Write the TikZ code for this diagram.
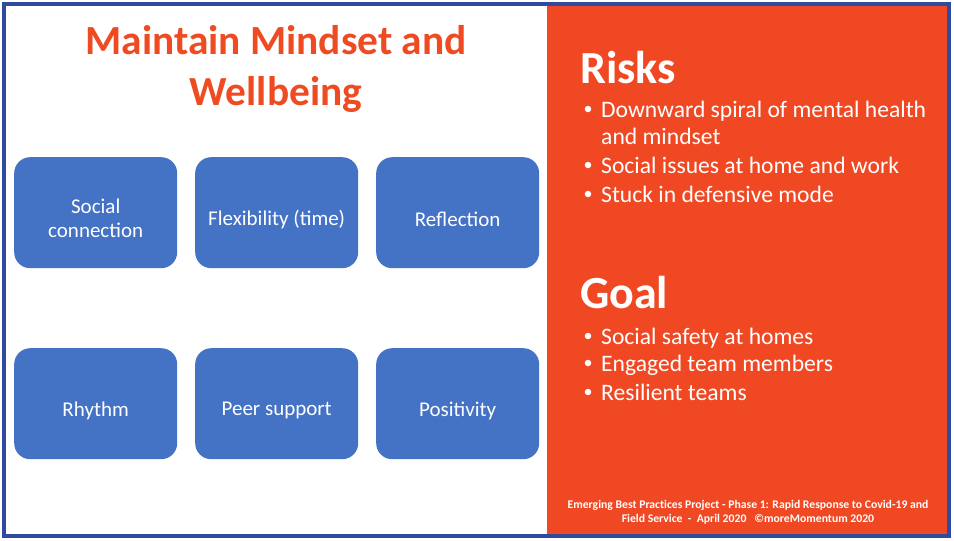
\documentclass[tikz,border=0pt]{standalone}
\usepackage{fontspec}
\setmainfont{Carlito}
\definecolor{frameblue}{HTML}{2F4A9E}
\definecolor{panelorange}{HTML}{EF4823}
\definecolor{titleorange}{HTML}{EF4B23}
\definecolor{boxblue}{HTML}{4472C4}
\begin{document}
\begin{tikzpicture}[x=1pt,y=-1pt,
  box/.style={fill=boxblue,rounded corners=16pt,minimum width=163pt,minimum height=111pt,anchor=north west,inner sep=0pt},
  boxtext/.style={text=white,align=center,font=\fontsize{21}{24}\selectfont,inner sep=0pt},
  head/.style={anchor=base west,text=white,font=\fontsize{46}{50}\selectfont\bfseries,inner sep=0pt},
  bul/.style={anchor=base west,text=white,font=\fontsize{23.6}{28}\selectfont,inner sep=0pt,align=left},
  dot/.style={circle,fill=white,minimum size=6.5pt,inner sep=0pt}]
\useasboundingbox (0,0) rectangle (954,541);
\fill[white] (0,0) rectangle (954,541);
\fill[panelorange] (547,6) rectangle (947,534);
\draw[frameblue,line width=4.5pt] (4,4) rectangle (949,536);
% title
\node[text=titleorange,font=\fontsize{41.4}{51}\selectfont\bfseries,align=center,anchor=base,inner sep=0pt] (title) at (276,105) {Maintain Mindset and\\Wellbeing};
% boxes
\node[box] (b1) at (14,157) {};
\node[box] (b2) at (195,157) {};
\node[box] (b3) at (376,157) {};
\node[box] (b4) at (14,348) {};
\node[box] (b5) at (195,348) {};
\node[box] (b6) at (376,348) {};
\node[boxtext] (t1) at ([yshift=-6pt]b1.center) {Social\\connection};
\node[boxtext] (t2) at ([yshift=-7pt]b2.center) {Flexibility (time)};
\node[boxtext] (t3) at ([yshift=-7pt]b3.center) {Reflection};
\node[boxtext] (t4) at ([yshift=-7pt]b4.center) {Rhythm};
\node[boxtext] (t5) at ([yshift=-7pt]b5.center) {Peer support};
\node[boxtext] (t6) at ([yshift=-7pt]b6.center) {Positivity};
% risks
\node[head] (risks) at (580,83) {Risks};
\node[bul] (r1) at (601,117) {Downward spiral of mental health};
\node[bul] (r1b) at (601,144) {and mindset};
\node[bul] (r2) at (601,173) {Social issues at home and work};
\node[bul] (r3) at (601,202) {Stuck in defensive mode};
\node[dot] (d1) at (588,109) {};
\node[dot] (d2) at (588,165) {};
\node[dot] (d3) at (588,194) {};
% goal
\node[head] (goal) at (580,308) {Goal};
\node[bul] (g1) at (601,344) {Social safety at homes};
\node[bul] (g2) at (601,371) {Engaged team members};
\node[bul] (g3) at (601,400) {Resilient teams};
\node[dot] (d4) at (588,336) {};
\node[dot] (d5) at (588,363) {};
\node[dot] (d6) at (588,392) {};
% footer
\node[text=white,font=\fontsize{11.7}{14}\selectfont\addfontfeatures{Ligatures=NoCommon}\bfseries,align=center,anchor=base,inner sep=0pt] (foot) at (748,522) {Emerging Best Practices Project - Phase 1: Rapid Response to Covid-19 and\\Field Service\ \ -\ \ April 2020\ \ \ ©moreMomentum 2020};
\end{tikzpicture}
\end{document}
